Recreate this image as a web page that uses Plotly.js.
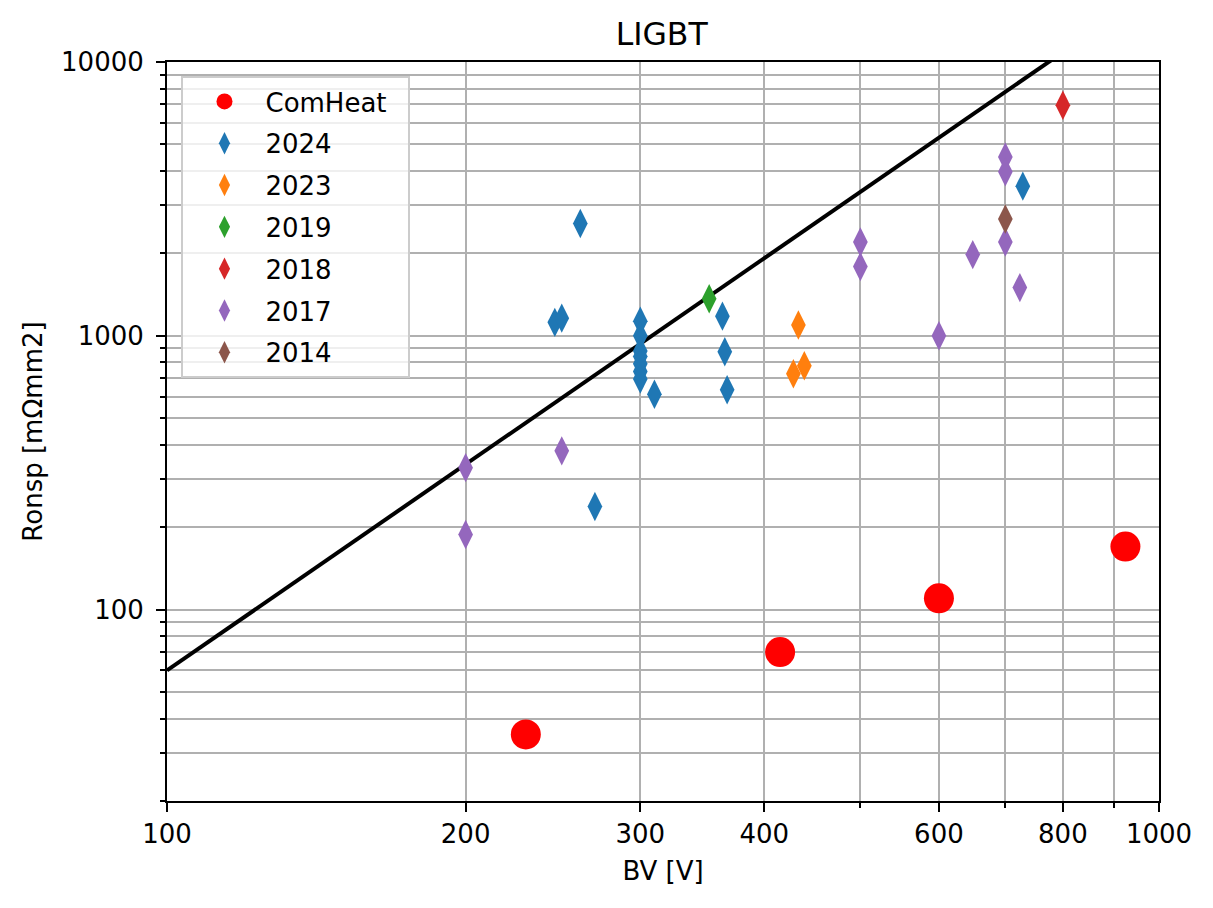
<!DOCTYPE html>
<html>
<head>
<meta charset="utf-8">
<script src="https://cdn.plot.ly/plotly-3.0.1.min.js"></script>
<style>
  html, body { margin: 0; padding: 0; background: #fff; }
  #chart { width: 1213px; height: 908px; }
</style>
</head>
<body>
<div id="chart"></div>
<script>
"use strict";

// Breakdown voltage [V] and specific on-resistance [mOhm mm2]
var comHeatBV = [230, 415, 600, 925];
var comHeatRon = [35, 70, 110, 170];

var bv2024 = [246, 250, 261, 270, 300, 300, 300, 300, 300, 300, 300, 310, 363, 365, 367, 729];
var ron2024 = [1120, 1160, 2570, 238, 1130, 1000, 880, 840, 790, 740, 695, 612, 1180, 875, 635, 3520];

var bv2023 = [433, 428, 439];
var ron2023 = [1095, 727, 777];

var bv2019 = [352];
var ron2019 = [1365];

var bv2018 = [800];
var ron2018 = [6950];

var bv2017 = [200, 200, 250, 500, 500, 600, 649, 700, 700, 700, 724];
var ron2017 = [330, 188, 380, 2200, 1790, 1000, 1980, 4500, 3970, 2200, 1500];

var bv2014 = [700];
var ron2014 = [2670];

// reference limit line end points
var limitBV = [100, 1000];
var limitRon = [60, 18970];

var xMajorTicks = [100, 200, 300, 400, 600, 800, 1000];
var xMinorTicks = [500, 700, 900];
var yMajorTicks = [100, 1000, 10000];
var yMinorTicks = [20, 30, 40, 50, 60, 70, 80, 90, 200, 300, 400, 500, 600, 700, 800, 900,
    2000, 3000, 4000, 5000, 6000, 7000, 8000, 9000];

var FONT = "DejaVu Sans, Verdana, sans-serif";
var GRID = "#b0b0b0";

function diamondTrace(name, x, y, color) {
    return {
        x: x,
        y: y,
        name: name,
        legendgroup: name,
        mode: "markers",
        type: "scatter",
        marker: { symbol: "diamond-tall", size: 21, color: color, line: { width: 0 } },
        cliponaxis: false
    };
}

var data = [
    {
        x: limitBV,
        y: limitRon,
        mode: "lines",
        type: "scatter",
        line: { color: "#000000", width: 4 },
        showlegend: false,
        hoverinfo: "skip"
    },
    {
        x: comHeatBV,
        y: comHeatRon,
        name: "ComHeat\u00a0\u00a0",   // nbsp pads the legend box to the reference width
        legendgroup: "ComHeat",
        mode: "markers",
        type: "scatter",
        marker: { symbol: "circle", size: 30, color: "#ff0000", line: { width: 0 } }
    },
    diamondTrace("2024", bv2024, ron2024, "#1f77b4"),
    diamondTrace("2023", bv2023, ron2023, "#ff7f0e"),
    diamondTrace("2019", bv2019, ron2019, "#2ca02c"),
    diamondTrace("2018", bv2018, ron2018, "#d62728"),
    diamondTrace("2017", bv2017, ron2017, "#9467bd"),
    diamondTrace("2014", bv2014, ron2014, "#8c564b")
];

var layout = {
    width: 1213,
    height: 908,
    margin: { l: 166.5, r: 54, t: 62, b: 107.3, pad: 0 },
    paper_bgcolor: "#ffffff",
    plot_bgcolor: "#ffffff",
    font: { family: FONT, size: 26, color: "#000000" },
    showlegend: true,
    title: {
        text: "LIGBT",
        font: { family: FONT, size: 31.5, color: "#000000" },
        x: 0.5455, xref: "container", xanchor: "center",
        y: 1 - 34 / 908, yref: "container", yanchor: "middle"
    },
    xaxis: {
        type: "log",
        range: [2, 3],
        title: { text: "BV [V]", font: { family: FONT, size: 26 }, standoff: 14 },
        tickmode: "array",
        tickvals: xMajorTicks,
        ticktext: xMajorTicks.map(String),
        ticks: "outside",
        ticklen: 9,
        tickwidth: 2,
        tickcolor: "#000000",
        showgrid: true,
        gridcolor: GRID,
        gridwidth: 2,
        minor: {
            tickmode: "array",
            tickvals: xMinorTicks,
            ticks: "outside",
            ticklen: 5,
            tickwidth: 2,
            tickcolor: "#000000",
            showgrid: true,
            gridcolor: GRID,
            gridwidth: 2
        },
        showline: true,
        linecolor: "#000000",
        linewidth: 2,
        mirror: true,
        zeroline: false,
        automargin: false
    },
    yaxis: {
        type: "log",
        range: [Math.log10(20), 4],
        title: { text: "Ronsp [mΩmm2]", font: { family: FONT, size: 26 }, standoff: 11 },
        tickmode: "array",
        tickvals: yMajorTicks,
        ticktext: yMajorTicks.map(String),
        ticks: "outside",
        ticklen: 9,
        tickwidth: 2,
        tickcolor: "#000000",
        ticklabelstandoff: 7,
        showgrid: true,
        gridcolor: GRID,
        gridwidth: 2,
        minor: {
            tickmode: "array",
            tickvals: yMinorTicks,
            ticks: "outside",
            ticklen: 5,
            tickwidth: 2,
            tickcolor: "#000000",
            showgrid: true,
            gridcolor: GRID,
            gridwidth: 2
        },
        showline: true,
        linecolor: "#000000",
        linewidth: 2,
        mirror: true,
        zeroline: false,
        automargin: false
    },
    legend: {
        x: 0.0146,
        y: 0.981,
        xanchor: "left",
        yanchor: "top",
        bgcolor: "rgba(255,255,255,0.8)",
        bordercolor: "#cccccc",
        borderwidth: 2,
        font: { family: FONT, size: 26, color: "#000000" },
        itemwidth: 72,
        tracegroupgap: 5,
        itemsizing: "trace"
    }
};

Plotly.newPlot("chart", data, layout, { staticPlot: true, displayModeBar: false });
</script>
</body>
</html>
